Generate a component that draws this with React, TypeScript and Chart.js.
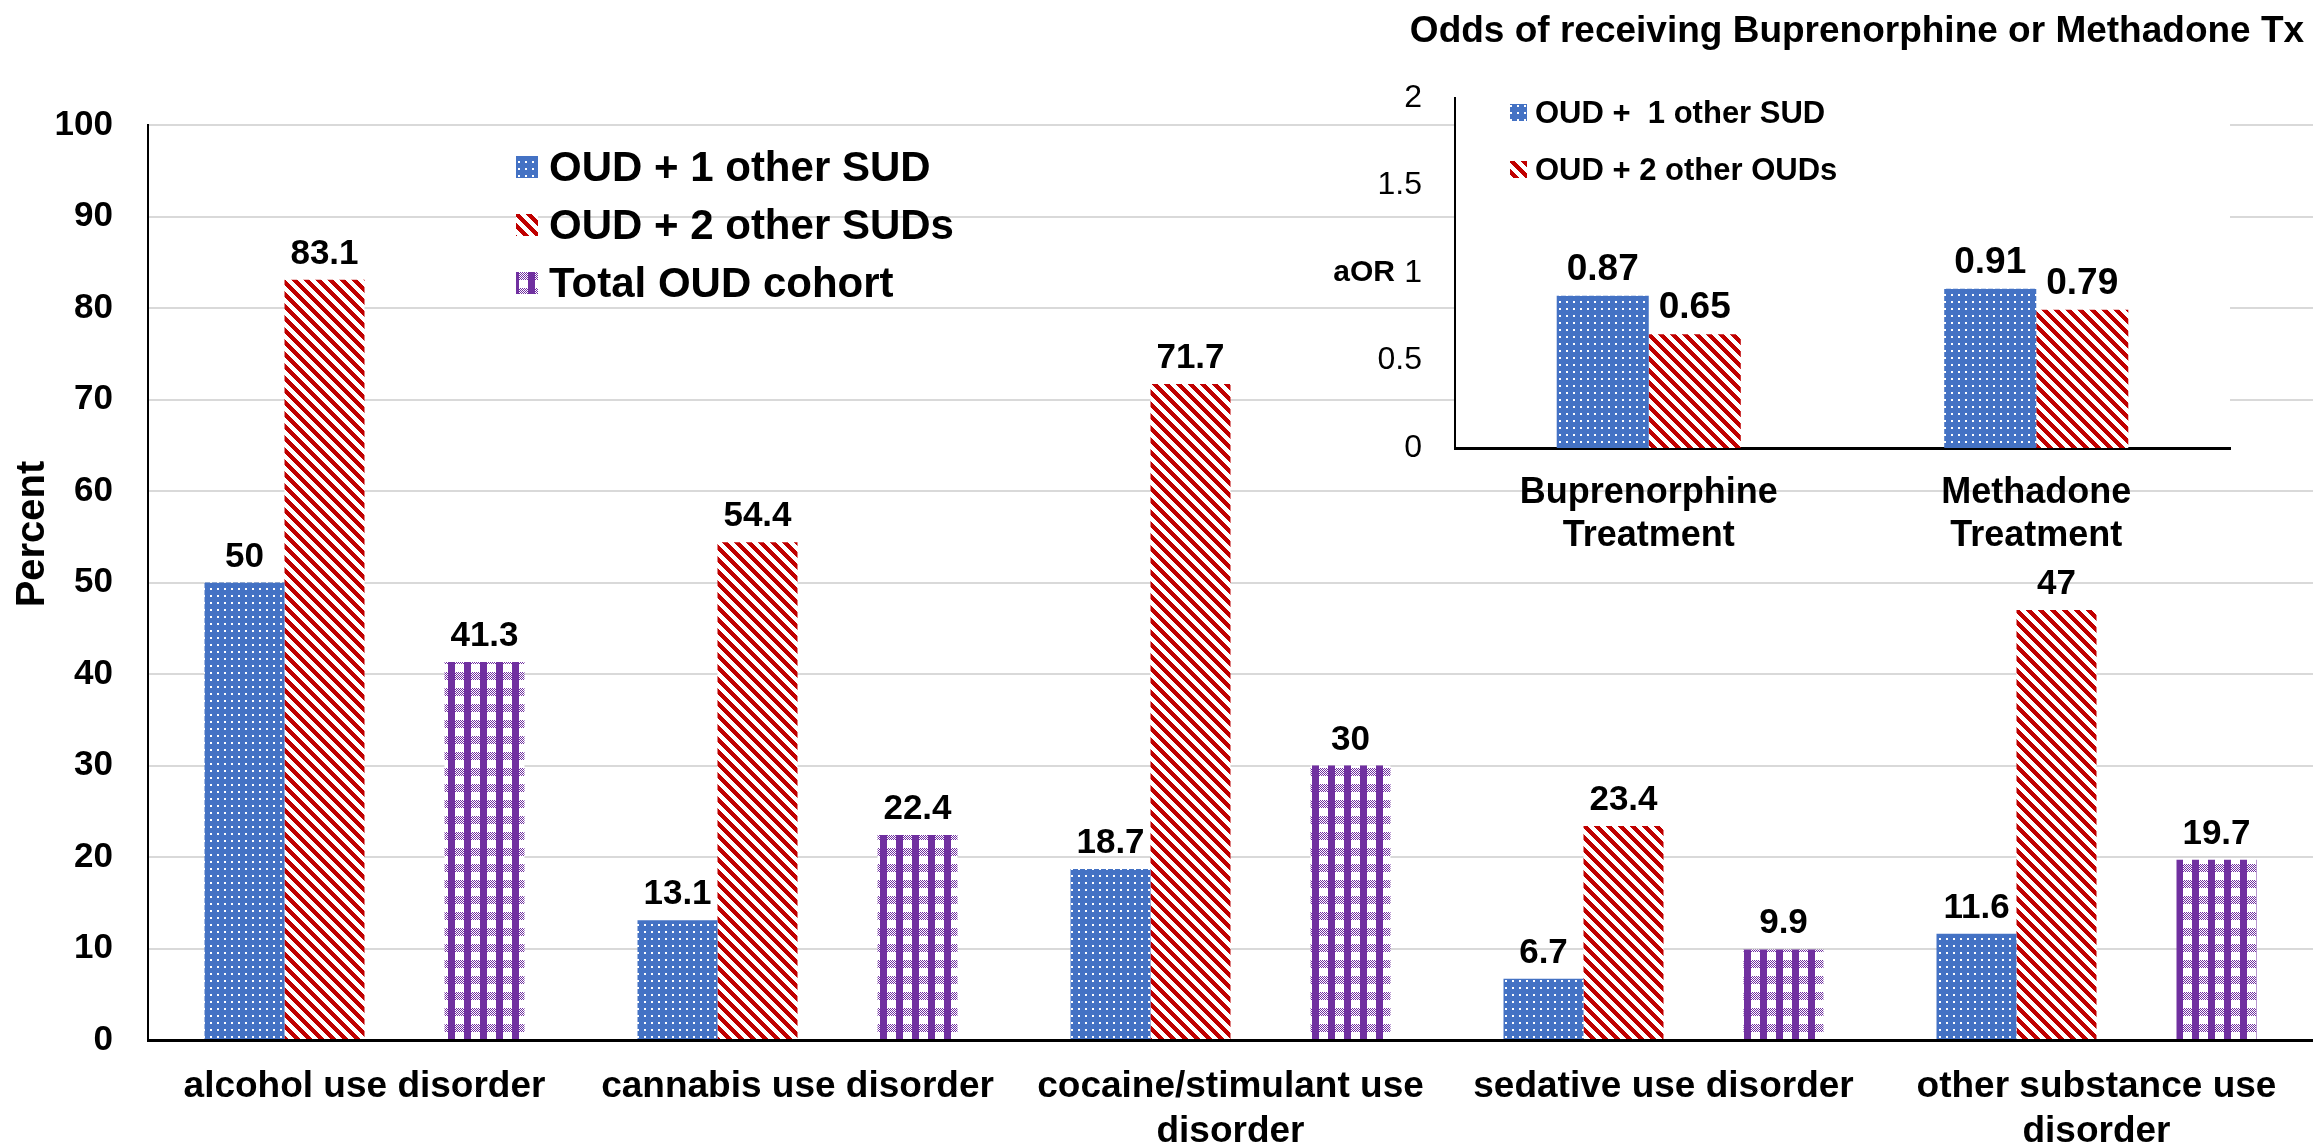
import React, { useEffect, useRef } from 'react';
import { Chart, registerables } from 'chart.js';

Chart.register(...registerables);

// ---------- data ----------
const categories = [
  ['alcohol use disorder'],
  ['cannabis use disorder'],
  ['cocaine/stimulant use', 'disorder'],
  ['sedative use disorder'],
  ['other substance use', 'disorder'],
];
const seriesLabels = ['OUD + 1 other SUD', 'OUD + 2 other SUDs', 'Total OUD cohort'];
const oneOtherSud = [50, 13.1, 18.7, 6.7, 11.6];
const twoOtherSuds = [83.1, 54.4, 71.7, 23.4, 47];
const totalCohort = [41.3, 22.4, 30, 9.9, 19.7];
const yAxisTitle = 'Percent';

const insetTitle = 'Odds of receiving Buprenorphine or Methadone Tx';
const insetCategories = [
  ['Buprenorphine', 'Treatment'],
  ['Methadone', 'Treatment'],
];
const insetSeriesLabels = ['OUD +  1 other SUD', 'OUD + 2 other OUDs'];
const insetOneOther = [0.87, 0.91];
const insetTwoOther = [0.65, 0.79];
const insetYTitle = 'aOR';

const FONT = '"Liberation Sans", Arial, Helvetica, sans-serif';

function makePattern(w: number, h: number, fn: (x: number, y: number) => string | null) {
  const c = document.createElement('canvas');
  c.width = w;
  c.height = h;
  const ctx = c.getContext('2d')!;
  for (let y = 0; y < h; y++) {
    for (let x = 0; x < w; x++) {
      const col = fn(x, y);
      if (col) {
        ctx.fillStyle = col;
        ctx.fillRect(x, y, 1, 1);
      }
    }
  }
  return ctx.createPattern(c, 'repeat')!;
}

const BLUE = '#4472C4';
const RED = '#C00000';
const PURPLE = '#7030A0';

function bluePattern() {
  return makePattern(7, 7, (x, y) => (x < 2 && y < 2 ? '#ffffff' : BLUE));
}
function redPattern() {
  return makePattern(12, 12, (x, y) => ((((x - y) % 12) + 12) % 12 < 6 ? RED : '#ffffff'));
}
function purplePattern() {
  return makePattern(16, 16, (x, y) => {
    const inBand = y < 8;
    const inCol = x < 7;
    if (inCol) return PURPLE;
    if (inBand) return (x + y) % 2 === 0 ? PURPLE : '#ffffff';
    return '#ffffff';
  });
}

function drawBarLabels(chart: any, dsIndexes: number[], size: number, gap: number) {
  const ctx = chart.ctx;
  ctx.save();
  ctx.fillStyle = '#000';
  ctx.font = `bold ${size}px ${FONT}`;
  ctx.textAlign = 'center';
  ctx.textBaseline = 'alphabetic';
  dsIndexes.forEach((i) => {
    const meta = chart.getDatasetMeta(i);
    const data = chart.data.datasets[i].data;
    meta.data.forEach((bar: any, j: number) => {
      const v = data[j];
      if (v === null || v === undefined) return;
      ctx.fillText(String(v), bar.x, bar.y - gap);
    });
  });
  ctx.restore();
}

export default function App() {
  const mainRef = useRef<HTMLCanvasElement | null>(null);
  const insetRef = useRef<HTMLCanvasElement | null>(null);

  useEffect(() => {
    document.body.style.margin = '0';
    const bp = bluePattern();
    const rp = redPattern();
    const pp = purplePattern();

    const mainPlugin = {
      id: 'mainDecor',
      afterDraw(chart: any) {
        drawBarLabels(chart, [0, 1, 3], 35, 16);
        const ctx = chart.ctx;
        ctx.save();
        // legend
        const pats = [bp, rp, pp];
        const rows = [167, 225, 283];
        ctx.font = `bold 42px ${FONT}`;
        ctx.textBaseline = 'middle';
        ctx.textAlign = 'left';
        seriesLabels.forEach((lab, i) => {
          ctx.fillStyle = pats[i];
          ctx.fillRect(516, rows[i] - 11, 22, 22);
          ctx.fillStyle = '#000';
          ctx.fillText(lab, 549, rows[i] + 2);
        });
        // y-axis title
        ctx.translate(33, 534);
        ctx.rotate(-Math.PI / 2);
        ctx.font = `bold 40px ${FONT}`;
        ctx.textAlign = 'center';
        ctx.textBaseline = 'middle';
        ctx.fillText(yAxisTitle, 0, 0);
        ctx.restore();
      },
    };

    const main = new Chart(mainRef.current!, {
      type: 'bar',
      data: {
        labels: categories,
        datasets: [
          { label: seriesLabels[0], data: oneOtherSud, backgroundColor: bp, borderWidth: 0 },
          { label: seriesLabels[1], data: twoOtherSuds, backgroundColor: rp, borderWidth: 0 },
          { label: '', data: categories.map(() => null), backgroundColor: 'rgba(0,0,0,0)' },
          { label: seriesLabels[2], data: totalCohort, backgroundColor: pp, borderWidth: 0 },
        ],
      },
      options: {
        responsive: false,
        animation: false,
        devicePixelRatio: 1,
        layout: { padding: { top: 125, left: 0, right: 0, bottom: 0 } },
        plugins: { legend: { display: false }, tooltip: { enabled: false }, title: { display: false } },
        datasets: { bar: { barPercentage: 1, categoryPercentage: 0.739 } },
        scales: {
          x: {
            grid: { display: false, drawTicks: false },
            border: { display: true, color: '#000', width: 3 },
            ticks: {
              color: '#000',
              font: { family: FONT, size: 37, weight: 'bold', lineHeight: 1.2 },
              padding: 25,
              maxRotation: 0,
              autoSkip: false,
            },
            afterFit: (s: any) => {
              s.height = 105;
            },
          },
          y: {
            min: 0,
            max: 100,
            ticks: { stepSize: 10, color: '#000', font: { family: FONT, size: 35, weight: 'bold' }, padding: 35 },
            grid: {
              color: (c: any) => (c.tick && c.tick.value === 0 ? 'rgba(0,0,0,0)' : '#d9d9d9'),
              lineWidth: 2,
              drawTicks: false,
            },
            border: { display: true, color: '#000', width: 2 },
            afterFit: (s: any) => {
              s.width = 148;
            },
          },
        },
      } as any,
      plugins: [mainPlugin],
    });

    const insetPlugin = {
      id: 'insetDecor',
      beforeDraw(chart: any) {
        const { ctx, chartArea } = chart;
        ctx.save();
        ctx.fillStyle = '#ffffff';
        ctx.fillRect(chartArea.left, chartArea.top, chartArea.right - chartArea.left, chartArea.bottom - chartArea.top);
        ctx.restore();
      },
      afterDraw(chart: any) {
        drawBarLabels(chart, [0, 1], 37, 16);
        const ctx = chart.ctx;
        ctx.save();
        ctx.fillStyle = '#000';
        ctx.font = `bold 37px ${FONT}`;
        ctx.textAlign = 'center';
        ctx.textBaseline = 'middle';
        ctx.fillText(insetTitle, 557, 32);
        // aOR
        ctx.font = `bold 30px ${FONT}`;
        ctx.textAlign = 'right';
        ctx.fillText(insetYTitle, 95, chart.scales.y.getPixelForValue(1));
        // legend
        const pats = [bp, rp];
        const rows = [113, 170];
        ctx.font = `bold 31px ${FONT}`;
        ctx.textAlign = 'left';
        insetSeriesLabels.forEach((lab, i) => {
          ctx.fillStyle = pats[i];
          ctx.fillRect(210, rows[i] - 9, 17, 17);
          ctx.fillStyle = '#000';
          ctx.fillText(lab, 235, rows[i] + 1);
        });
        ctx.restore();
      },
    };

    const inset = new Chart(insetRef.current!, {
      type: 'bar',
      data: {
        labels: insetCategories,
        datasets: [
          { label: insetSeriesLabels[0], data: insetOneOther, backgroundColor: bp, borderWidth: 0 },
          { label: insetSeriesLabels[1], data: insetTwoOther, backgroundColor: rp, borderWidth: 0 },
        ],
      },
      options: {
        responsive: false,
        animation: false,
        devicePixelRatio: 1,
        layout: { padding: { top: 98, left: 0, right: 83, bottom: 0 } },
        plugins: { legend: { display: false }, tooltip: { enabled: false }, title: { display: false } },
        datasets: { bar: { barPercentage: 1, categoryPercentage: 0.475 } },
        scales: {
          x: {
            grid: { display: false, drawTicks: false },
            border: { display: true, color: '#000', width: 3 },
            ticks: {
              color: '#000',
              font: { family: FONT, size: 36, weight: 'bold', lineHeight: 1.2 },
              padding: 23,
              maxRotation: 0,
              autoSkip: false,
            },
            afterFit: (s: any) => {
              s.height = 152;
            },
          },
          y: {
            min: 0,
            max: 2,
            ticks: {
              stepSize: 0.5,
              color: '#000',
              font: { family: FONT, size: 32 },
              padding: 33,
              callback: (v: any) => String(v),
            },
            grid: { display: false, drawTicks: false },
            border: { display: true, color: '#000', width: 2 },
            afterFit: (s: any) => {
              s.width = 155;
            },
          },
        },
      } as any,
      plugins: [insetPlugin],
    });

    return () => {
      main.destroy();
      inset.destroy();
    };
  }, []);

  return (
    <div style={{ position: 'absolute', left: 0, top: 0, width: 2313, height: 1145, background: '#fff', overflow: 'hidden' }}>
      <canvas ref={mainRef} width={2313} height={1145} style={{ position: 'absolute', left: 0, top: 0, width: 2313, height: 1145 }} />
      <canvas ref={insetRef} width={1013} height={600} style={{ position: 'absolute', left: 1300, top: 0, width: 1013, height: 600 }} />
    </div>
  );
}
